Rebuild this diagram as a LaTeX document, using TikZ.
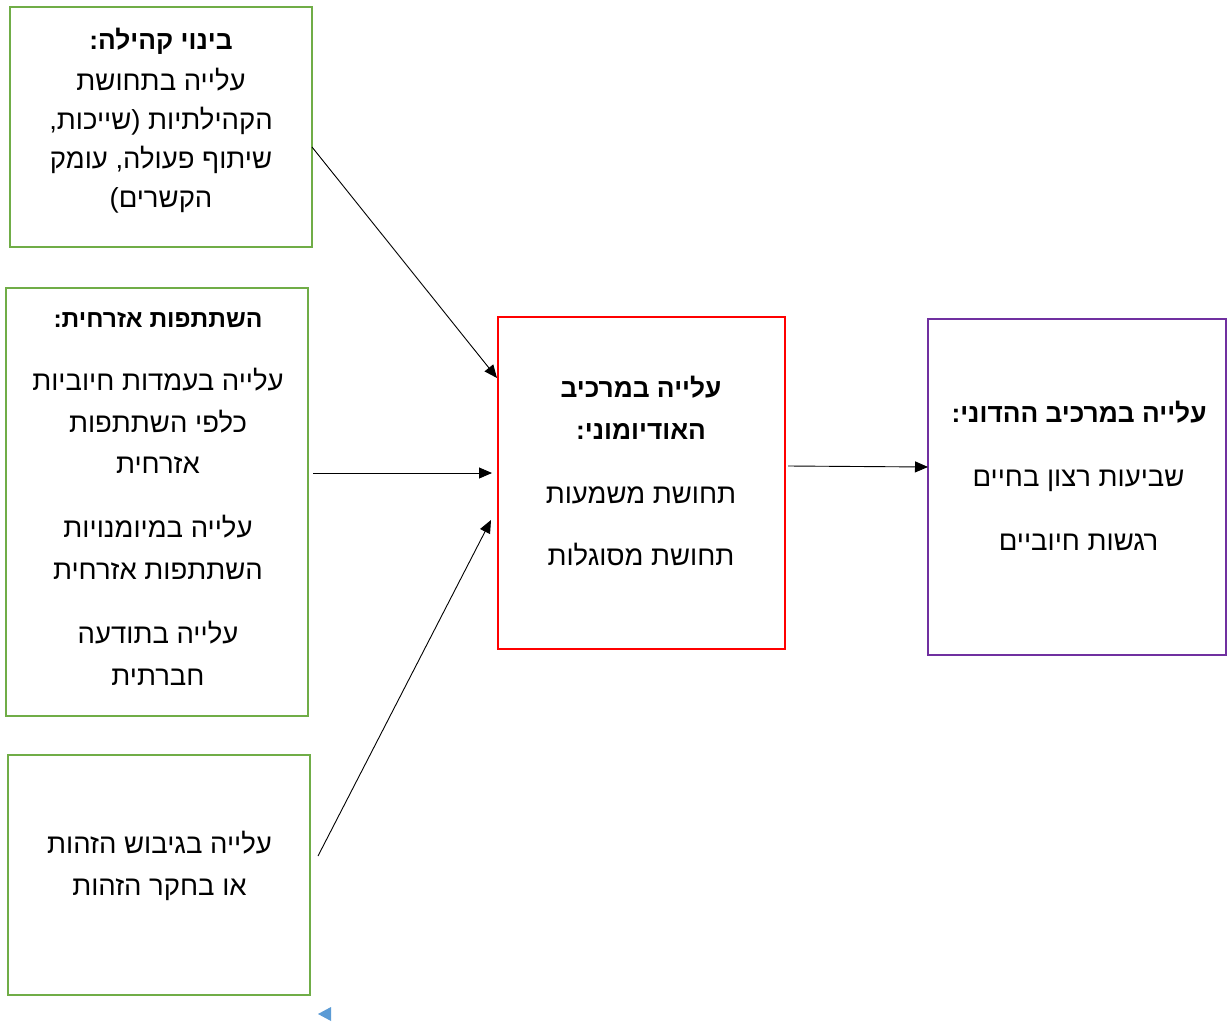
\documentclass[tikz,border=0pt]{standalone}
\usepackage{fontspec}
\setmainfont{Liberation Sans}
\newfontfamily\hebfont[Script=Hebrew]{Liberation Sans}
\TeXXeTstate=1
\usetikzlibrary{arrows.meta}
\definecolor{boxgreen}{HTML}{70AD47}
\definecolor{boxred}{HTML}{FF0000}
\definecolor{boxpurple}{HTML}{7030A0}
\definecolor{markblue}{HTML}{5B9BD5}
\begin{document}
\begin{tikzpicture}[x=1pt,y=-1pt,
  box/.style={draw, line width=2.6pt, inner sep=0pt, outer sep=0pt, rectangle},
  txt/.style={anchor=base, inner sep=0pt, font=\hebfont\fontsize{27.5}{32}\selectfont},
  hd/.style={anchor=base, inner sep=0pt, font=\hebfont\bfseries\fontsize{26.3}{30}\selectfont},
  hdsmall/.style={anchor=base, inner sep=0pt, font=\hebfont\bfseries\fontsize{24.6}{28}\selectfont},
  arr/.style={-{Triangle[length=13pt,width=11pt]}, line width=0.9pt, black}]
\useasboundingbox (0,0) rectangle (1227,1023);
\fill[white] (0,0) rectangle (1227,1023);

% boxes
\node[box, boxgreen, minimum width=302pt, minimum height=240pt] (b1) at (161,127) {};
\node[box, boxgreen, minimum width=302pt, minimum height=428pt] (b2) at (157,502) {};
\node[box, boxgreen, minimum width=302pt, minimum height=240pt] (b3) at (159,875) {};
\node[box, boxred, minimum width=287pt, minimum height=332pt] (b4) at (641.5,483) {};
\node[box, boxpurple, minimum width=298pt, minimum height=336pt] (b5) at (1077,487) {};

% box 1 text
\node[hd] (t10) at (161,49) {\beginR בינוי קהילה:\endR};
\node[txt] (t11) at (161,90) {\beginR עלייה בתחושת\endR};
\node[txt] (t12) at (161,129) {\beginR הקהילתיות (שייכות,\endR};
\node[txt] (t13) at (161,168) {\beginR שיתוף פעולה, עומק\endR};
\node[txt] (t14) at (161,207) {\beginR הקשרים)\endR};

% box 2 text
\node[hdsmall] (t20) at (158,327) {\beginR השתתפות אזרחית:\endR};
\node[txt] (t21) at (158,390) {\beginR עלייה בעמדות חיוביות\endR};
\node[txt] (t22) at (158,432) {\beginR כלפי השתתפות\endR};
\node[txt] (t23) at (158,473) {\beginR אזרחית\endR};
\node[txt] (t24) at (158,537) {\beginR עלייה במיומנויות\endR};
\node[txt] (t25) at (158,579) {\beginR השתתפות אזרחית\endR};
\node[txt] (t26) at (158,643) {\beginR עלייה בתודעה\endR};
\node[txt] (t27) at (158,685) {\beginR חברתית\endR};

% box 3 text
\node[txt] (t31) at (159.5,853) {\beginR עלייה בגיבוש הזהות\endR};
\node[txt] (t32) at (159.5,895) {\beginR או בחקר הזהות\endR};

% box 4 text
\node[hd] (t40) at (641,397) {\beginR עלייה במרכיב\endR};
\node[hd] (t41) at (641,439) {\beginR האודיומוני:\endR};
\node[txt] (t42) at (641,503) {\beginR תחושת משמעות\endR};
\node[txt] (t43) at (641,565) {\beginR תחושת מסוגלות\endR};

% box 5 text
\node[hd] (t50) at (1079,422) {\beginR עלייה במרכיב ההדוני:\endR};
\node[txt] (t51) at (1078.5,486) {\beginR שביעות רצון בחיים\endR};
\node[txt] (t52) at (1078.5,550) {\beginR רגשות חיוביים\endR};

% connectors
\draw[arr] ([yshift=-20pt]b1.east) -- ([xshift=-1pt,yshift=105pt]b4.west);
\draw[arr] ([xshift=5pt,yshift=29pt]b2.east) -- ([xshift=-6pt,yshift=10pt]b4.west);
\draw[arr] ([xshift=8pt,yshift=19pt]b3.east) -- ([xshift=-7pt,yshift=-37pt]b4.west);
\draw[arr] ([xshift=3pt,yshift=17pt]b4.east) -- ([yshift=20pt]b5.west);

% small blue marker
\fill[markblue] (318,1014) -- (331,1007) -- (331,1021) -- cycle;
\end{tikzpicture}
\end{document}
